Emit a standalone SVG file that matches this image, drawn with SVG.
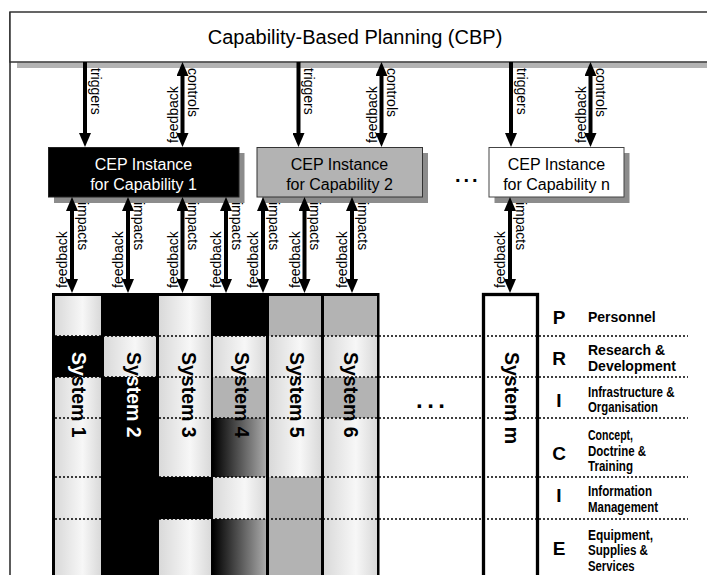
<svg xmlns="http://www.w3.org/2000/svg" width="707" height="575" viewBox="0 0 707 575">
<defs>
<style>
text{font-family:"Liberation Sans",Arial,sans-serif;fill:#000}
.lbl{font-size:14px}
.cep{font-size:16px;text-anchor:middle}
.sys{font-size:19.5px;font-weight:bold}
.let{font-size:19px;font-weight:bold;text-anchor:middle}
.leg{font-size:14px;font-weight:bold}
.arr{stroke:#000;stroke-width:4;fill:none}
.dot{stroke:#000;stroke-width:1.6;stroke-dasharray:2 2;fill:none}
.lt{fill:url(#lg)}
.gr{fill:#b3b3b3}
.dk{fill:url(#dg)}
</style>
<linearGradient id="lg" x1="0" y1="0" x2="1" y2="0">
<stop offset="0" stop-color="#d9d9d9"/>
<stop offset="0.6" stop-color="#f7f7f7"/>
<stop offset="1" stop-color="#d9d9d9"/>
</linearGradient>
<linearGradient id="dg" x1="0" y1="0" x2="1" y2="0">
<stop offset="0" stop-color="#000"/>
<stop offset="1" stop-color="#aaaaaa"/>
</linearGradient>
<marker id="ah" viewBox="0 0 14 12" refX="4" refY="6" markerWidth="14" markerHeight="12" markerUnits="userSpaceOnUse" orient="auto-start-reverse">
<path d="M0,0 L14,6 L0,12 z" fill="#000"/>
</marker>
<clipPath id="c1"><rect x="55" y="336" width="46" height="41"/></clipPath>
<clipPath id="c2"><rect x="104" y="336" width="52" height="41"/></clipPath>
</defs>

<g id="frame">
<line x1="10" y1="12" x2="10" y2="575" stroke="#333" stroke-width="1.6"/>
</g>

<g id="cbp">
<rect x="17" y="62.5" width="700" height="5.5" fill="#b3b3b3"/>
<rect x="10" y="12" width="705" height="50" fill="#fff" stroke="#333" stroke-width="1.5"/>
<text x="355" y="44" font-size="20" text-anchor="middle">Capability-Based Planning (CBP)</text>
</g>

<g id="cep1">
<rect x="54" y="153" width="190.5" height="50" fill="#8c8c8c"/>
<rect x="48.5" y="147.5" width="190.5" height="49.5" fill="#000" stroke="#222"/>
<text class="cep" x="143.5" y="169.5" style="fill:#fff">CEP Instance</text>
<text class="cep" x="143.5" y="189.5" style="fill:#fff">for Capability 1</text>
</g>

<g id="cep2">
<rect x="262.5" y="153" width="165.5" height="50" fill="#8c8c8c"/>
<rect x="257" y="147.5" width="165.5" height="49.5" fill="#b3b3b3" stroke="#333"/>
<text class="cep" x="339.5" y="169.5">CEP Instance</text>
<text class="cep" x="339.5" y="189.5">for Capability 2</text>
</g>

<g id="dots-cep">
<text x="455" y="182" font-size="20" font-weight="bold" letter-spacing="3">...</text>
</g>

<g id="cepn">
<rect x="494.5" y="153" width="135" height="50" fill="#8c8c8c"/>
<rect x="489" y="147.5" width="135" height="49.5" fill="#fff" stroke="#444"/>
<text class="cep" x="556.5" y="169.5">CEP Instance</text>
<text class="cep" x="556.5" y="189.5">for Capability n</text>
</g>

<g id="connectors">
<line class="arr" x1="85" y1="62" x2="85" y2="137" marker-end="url(#ah)"/>
<line class="arr" x1="182.5" y1="72" x2="182.5" y2="137" marker-start="url(#ah)" marker-end="url(#ah)"/>
<line class="arr" x1="298.5" y1="62" x2="298.5" y2="137" marker-end="url(#ah)"/>
<line class="arr" x1="381.5" y1="72" x2="381.5" y2="137" marker-start="url(#ah)" marker-end="url(#ah)"/>
<line class="arr" x1="511" y1="62" x2="511" y2="137" marker-end="url(#ah)"/>
<line class="arr" x1="590.5" y1="72" x2="590.5" y2="137" marker-start="url(#ah)" marker-end="url(#ah)"/>

<line class="arr" x1="72" y1="207" x2="72" y2="283" marker-start="url(#ah)" marker-end="url(#ah)"/>
<line class="arr" x1="128" y1="207" x2="128" y2="283" marker-start="url(#ah)" marker-end="url(#ah)"/>
<line class="arr" x1="182.5" y1="207" x2="182.5" y2="283" marker-start="url(#ah)" marker-end="url(#ah)"/>
<line class="arr" x1="226" y1="207" x2="226" y2="283" marker-start="url(#ah)" marker-end="url(#ah)"/>
<line class="arr" x1="263" y1="207" x2="263" y2="283" marker-start="url(#ah)" marker-end="url(#ah)"/>
<line class="arr" x1="304.5" y1="207" x2="304.5" y2="283" marker-start="url(#ah)" marker-end="url(#ah)"/>
<line class="arr" x1="352" y1="207" x2="352" y2="283" marker-start="url(#ah)" marker-end="url(#ah)"/>
<line class="arr" x1="510" y1="207" x2="510" y2="283" marker-start="url(#ah)" marker-end="url(#ah)"/>

<text class="lbl" transform="translate(90.5,68) rotate(90)">triggers</text>
<text class="lbl" transform="translate(177.5,143) rotate(-90)">feedback</text>
<text class="lbl" transform="translate(188,68) rotate(90)">controls</text>
<text class="lbl" transform="translate(304,68) rotate(90)">triggers</text>
<text class="lbl" transform="translate(376.5,143) rotate(-90)">feedback</text>
<text class="lbl" transform="translate(387,68) rotate(90)">controls</text>
<text class="lbl" transform="translate(516.5,68) rotate(90)">triggers</text>
<text class="lbl" transform="translate(585.5,143) rotate(-90)">feedback</text>
<text class="lbl" transform="translate(596,68) rotate(90)">controls</text>

<text class="lbl" transform="translate(67,288) rotate(-90)">feedback</text>
<text class="lbl" transform="translate(77.5,202) rotate(90)">impacts</text>
<text class="lbl" transform="translate(123,288) rotate(-90)">feedback</text>
<text class="lbl" transform="translate(133.5,202) rotate(90)">impacts</text>
<text class="lbl" transform="translate(177.5,288) rotate(-90)">feedback</text>
<text class="lbl" transform="translate(188,202) rotate(90)">impacts</text>
<text class="lbl" transform="translate(221,288) rotate(-90)">feedback</text>
<text class="lbl" transform="translate(231.5,202) rotate(90)">impacts</text>
<text class="lbl" transform="translate(258,288) rotate(-90)">feedback</text>
<text class="lbl" transform="translate(268.5,202) rotate(90)">impacts</text>
<text class="lbl" transform="translate(299.5,288) rotate(-90)">feedback</text>
<text class="lbl" transform="translate(310,202) rotate(90)">impacts</text>
<text class="lbl" transform="translate(347,288) rotate(-90)">feedback</text>
<text class="lbl" transform="translate(357.5,202) rotate(90)">impacts</text>
<text class="lbl" transform="translate(505,288) rotate(-90)">feedback</text>
<text class="lbl" transform="translate(515.5,202) rotate(90)">impacts</text>
</g>

<g id="systems">
<rect x="52" y="293" width="327.5" height="290" fill="#000"/>
<rect class="lt" x="55" y="296" width="46" height="40"/>
<rect class="lt" x="55" y="377" width="46" height="200"/>
<rect class="lt" x="104" y="336" width="52" height="41"/>
<rect class="lt" x="159" y="296" width="52" height="181"/>
<rect class="lt" x="159" y="519" width="52" height="58"/>
<rect class="lt" x="213" y="336" width="53" height="41"/>
<rect class="gr" x="213" y="377" width="53" height="41"/>
<rect class="dk" x="213" y="418" width="53" height="59"/>
<rect class="lt" x="213" y="477" width="53" height="42"/>
<rect class="dk" x="213" y="519" width="53" height="58"/>
<rect class="gr" x="269" y="296" width="52" height="40"/>
<rect class="lt" x="269" y="336" width="52" height="141"/>
<rect class="gr" x="269" y="477" width="52" height="100"/>
<rect class="gr" x="324" y="296" width="53" height="40"/>
<rect class="lt" x="324" y="336" width="53" height="41"/>
<rect class="gr" x="324" y="377" width="53" height="41"/>
<rect class="lt" x="324" y="418" width="53" height="159"/>
</g>

<g id="rows">
<line class="dot" x1="55" y1="336" x2="688" y2="336"/>
<line class="dot" x1="55" y1="377" x2="688" y2="377"/>
<line class="dot" x1="55" y1="418" x2="688" y2="418"/>
<line class="dot" x1="55" y1="477" x2="688" y2="477"/>
<line class="dot" x1="55" y1="519" x2="688" y2="519"/>
</g>

<g id="system-m">
<rect x="483.5" y="294.5" width="54" height="290" fill="none" stroke="#000" stroke-width="3.3"/>
<text class="sys" transform="translate(504.5,352) rotate(90)">System m</text>
</g>

<g id="system-labels">
<text class="sys" transform="translate(71.7,352) rotate(90)">System 1</text>
<g clip-path="url(#c1)"><text class="sys" transform="translate(71.7,352) rotate(90)" style="fill:#fff">System 1</text></g>
<text class="sys" transform="translate(126.7,352) rotate(90)" style="fill:#fff">System 2</text>
<g clip-path="url(#c2)"><text class="sys" transform="translate(126.7,352) rotate(90)">System 2</text></g>
<text class="sys" transform="translate(181.7,352) rotate(90)">System 3</text>
<text class="sys" transform="translate(235,352) rotate(90)">System 4</text>
<text class="sys" transform="translate(290,352) rotate(90)">System 5</text>
<text class="sys" transform="translate(344,352) rotate(90)">System 6</text>
</g>

<g id="dots-sys">
<text x="416" y="408" font-size="24" font-weight="bold" letter-spacing="4.5">...</text>
</g>

<g id="legend">
<text class="let" x="559" y="323.5">P</text>
<text class="let" x="559" y="364.8">R</text>
<text class="let" x="559" y="406.8">I</text>
<text class="let" x="559" y="459.8">C</text>
<text class="let" x="559" y="501.8">I</text>
<text class="let" x="559" y="554.8">E</text>
<text class="leg" x="588" y="321.5">Personnel</text>
<text class="leg" x="588" y="355">Research &amp;</text>
<text class="leg" x="588" y="371">Development</text>
<text class="leg" x="588" y="396.5" textLength="86.5" lengthAdjust="spacingAndGlyphs">Infrastructure &amp;</text>
<text class="leg" x="588" y="412" textLength="70" lengthAdjust="spacingAndGlyphs">Organisation</text>
<text class="leg" x="588" y="440" textLength="45" lengthAdjust="spacingAndGlyphs">Concept,</text>
<text class="leg" x="588" y="455.5" textLength="58" lengthAdjust="spacingAndGlyphs">Doctrine &amp;</text>
<text class="leg" x="588" y="471" textLength="45" lengthAdjust="spacingAndGlyphs">Training</text>
<text class="leg" x="588" y="496" textLength="64" lengthAdjust="spacingAndGlyphs">Information</text>
<text class="leg" x="588" y="511.5" textLength="70" lengthAdjust="spacingAndGlyphs">Management</text>
<text class="leg" x="588" y="540" textLength="65" lengthAdjust="spacingAndGlyphs">Equipment,</text>
<text class="leg" x="588" y="555" textLength="60" lengthAdjust="spacingAndGlyphs">Supplies &amp;</text>
<text class="leg" x="588" y="570.5" textLength="46.5" lengthAdjust="spacingAndGlyphs">Services</text>
</g>
</svg>
